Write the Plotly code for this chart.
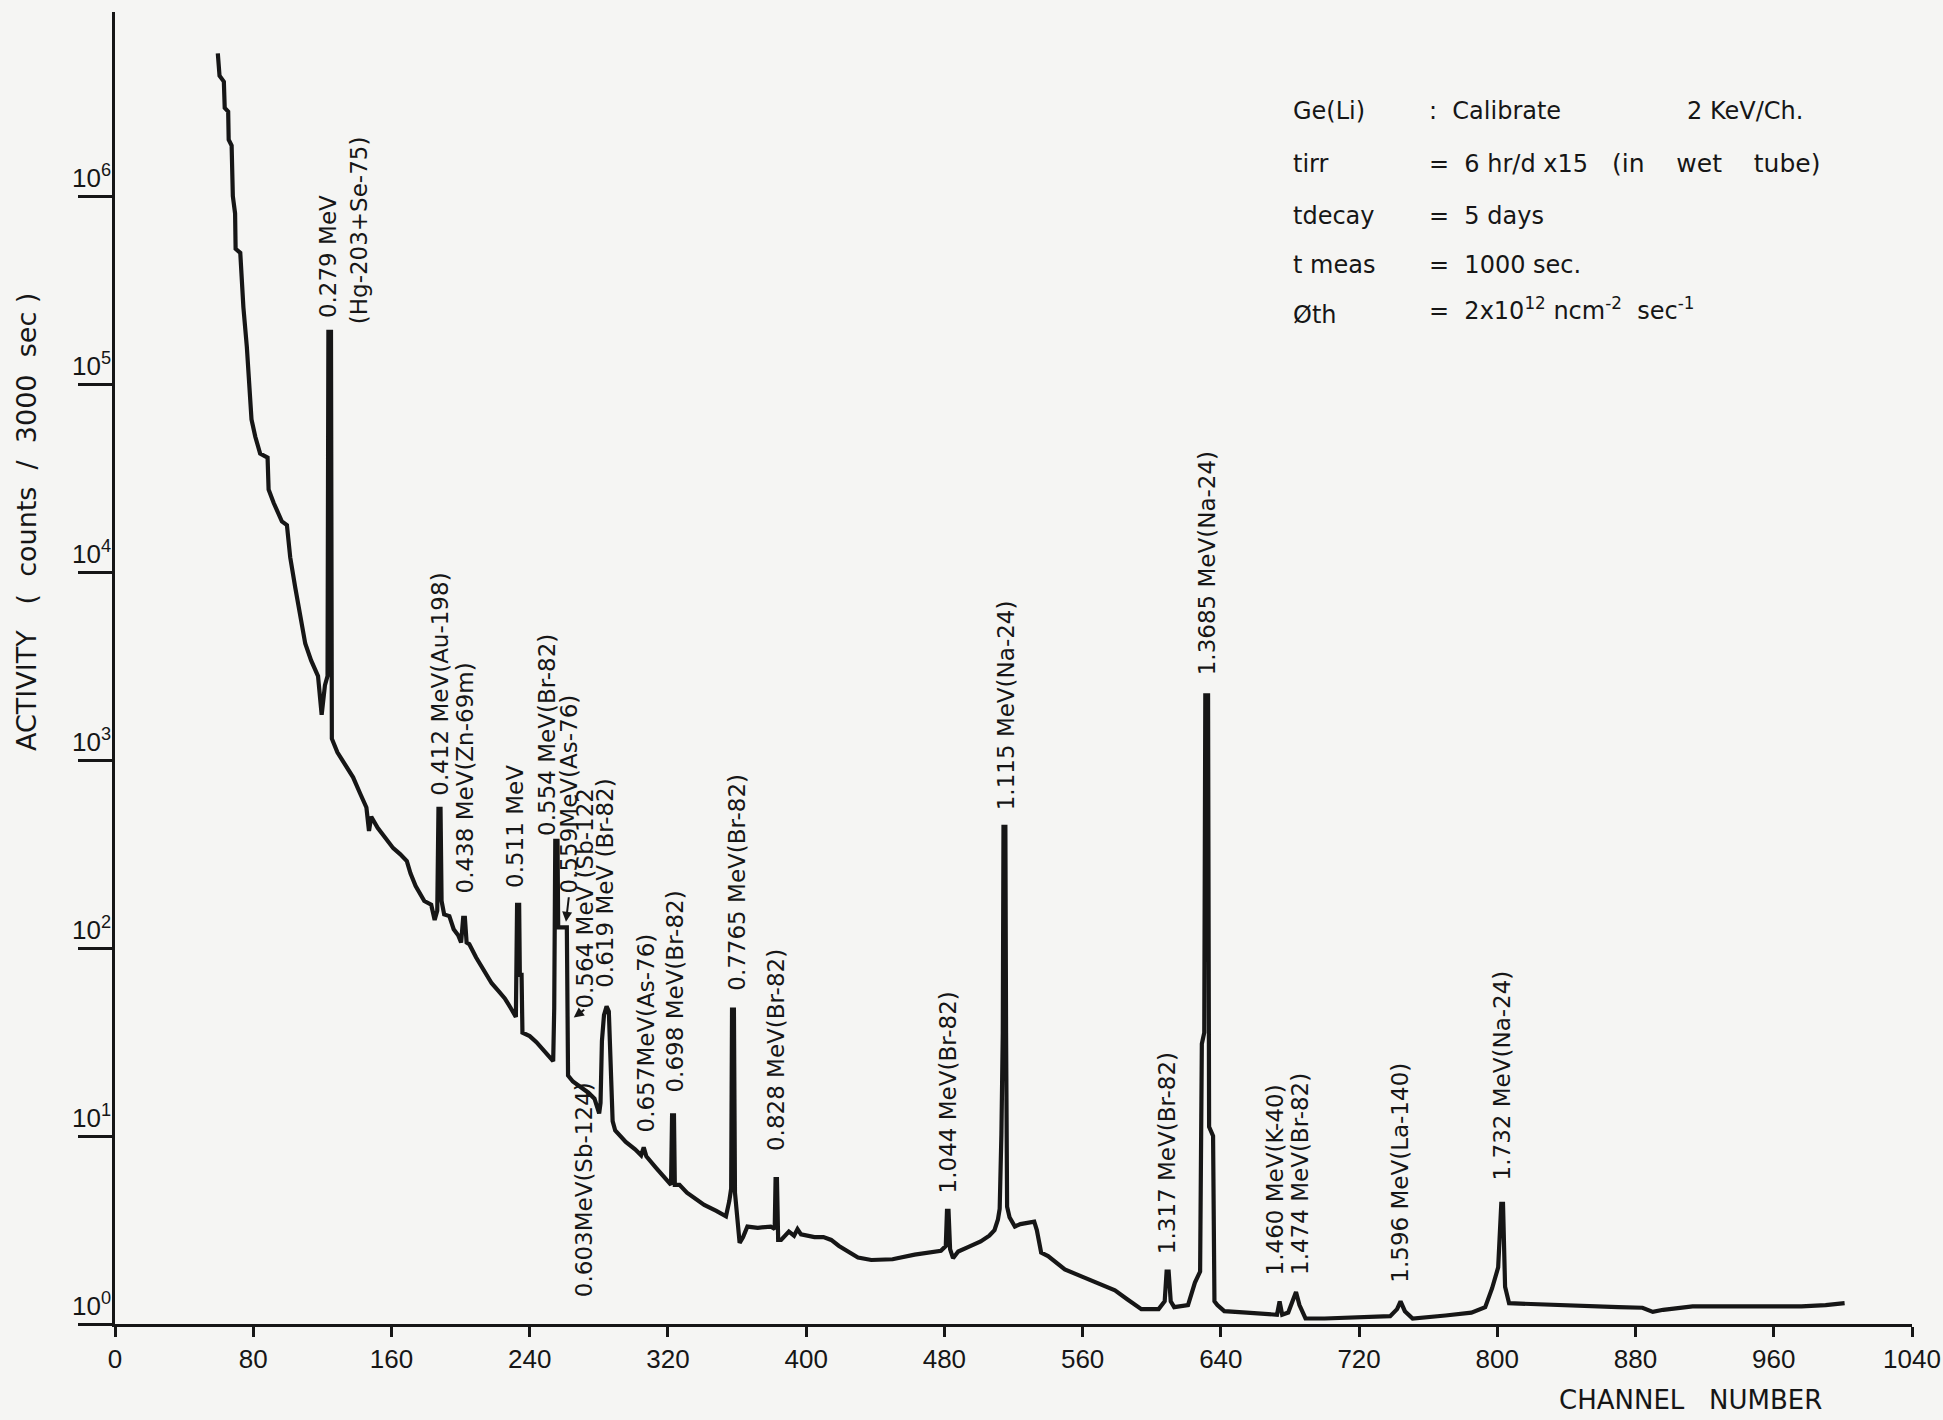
import plotly.graph_objects as go

# ---------------- data ----------------
CHANNEL = [
    59.5, 60.5, 63.0, 63.5, 65.5, 65.8, 67.5, 68.2, 69.5, 69.8, 72.5, 74.3, 76.3, 78.3,
    79.0, 81.2, 84.0, 88.3, 88.9, 91.8, 96.6, 99.5, 101.4, 104.3, 107.2, 110.1, 113.5,
    115.9, 117.5, 119.6, 121.5, 123.0, 123.5, 125.0, 125.5, 128.7, 133.0, 137.8, 142.0,
    145.5, 147.0, 148.3, 152.0, 156.0, 161.0, 165.0, 168.9, 171.0, 174.0, 179.0, 183.0,
    185.0, 186.5, 187.2, 188.4, 189.0, 190.5, 193.5, 196.0, 198.6, 200.3, 201.5, 202.5,
    203.5, 205.0, 209.0, 212.9, 218.0, 222.0, 225.6, 229.0, 232.0, 232.7, 233.9, 234.3,
    235.3, 235.8, 240.0, 243.9, 248.0, 251.7, 253.6, 254.2, 254.8, 256.1, 256.5, 261.5,
    262.2, 265.0, 269.7, 274.0, 277.5, 279.0, 280.2, 281.0, 281.8, 283.0, 284.5, 285.8,
    287.0, 288.0, 289.5, 295.6, 301.0, 304.5, 306.0, 307.5, 313.0, 319.0, 321.8, 322.4,
    323.5, 324.0, 326.7, 331.0, 337.0, 341.0, 348.0, 353.6, 355.5, 356.6, 357.1, 358.2,
    358.8, 361.5, 363.5, 366.0, 372.0, 379.5, 381.8, 382.3, 383.1, 383.8, 385.5, 390.0,
    393.0, 395.0, 397.0, 400.0, 404.8, 410.0, 414.5, 419.0, 424.0, 430.0, 437.7, 450.0,
    462.8, 471.0, 478.0, 480.8, 481.5, 482.4, 483.3, 485.0, 488.0, 494.0, 501.0, 506.0,
    509.0, 511.0, 512.0, 513.0, 513.8, 514.2, 515.3, 515.7, 516.3, 517.7, 520.8, 524.0,
    528.5, 532.0, 533.5, 536.0, 540.0, 545.0, 549.7, 560.0, 570.0, 578.7, 586.0, 594.0,
    604.0, 607.5, 608.6, 609.8, 611.0, 613.0, 621.0, 625.0, 628.0, 629.0, 630.4, 631.0,
    632.6, 633.2, 635.5, 636.3, 638.0, 642.0, 655.0, 668.0, 672.5, 674.0, 675.5, 679.0,
    682.0, 683.5, 685.5, 689.0, 700.0, 720.0, 738.0, 742.0, 744.0, 746.5, 751.0, 770.0,
    785.0, 793.0, 797.0, 800.5, 802.3, 803.3, 804.5, 806.8, 832.0, 851.0, 870.0, 884.0,
    890.0, 896.0, 913.0, 950.0, 976.0, 990.0, 1001.0,
]
COUNTS = [
    5.75e6, 4.37e6, 4.07e6, 2.95e6, 2.82e6, 2.0e6, 1.86e6, 1.0e6, 8.1e5, 5.25e5, 5.0e5,
    2.57e5, 1.58e5, 8.9e4, 6.5e4, 5.25e4, 4.27e4, 4.07e4, 2.75e4, 2.34e4, 1.86e4, 1.78e4,
    1.2e4, 8.3e3, 5.75e3, 4.17e3, 3.39e3, 3.02e3, 2.8e3, 1.74e3, 2.5e3, 2.8e3, 1.9e5,
    1.9e5, 1.3e3, 1.1e3, 955, 810, 660, 560, 420, 500, 436, 390, 340, 316, 290, 250, 214,
    178, 170, 141, 158, 550, 550, 178, 151, 148, 126, 117, 107, 145, 145, 107, 105, 89, 78,
    65, 59, 54, 48, 43, 170, 170, 72, 72, 35.5, 34, 31.6, 28.8, 26.3, 25, 48, 372, 372,
    129, 129, 21, 19.5, 18.2, 17, 15.8, 14.5, 13.2, 15, 32, 44, 49, 46, 25, 12, 10.7, 9.3,
    8.5, 7.9, 8.7, 7.8, 6.8, 5.9, 5.5, 12.9, 12.9, 5.5, 5.5, 5.0, 4.6, 4.3, 4.0, 3.74,
    4.5, 5.25, 47, 47, 5.0, 2.7, 2.9, 3.3, 3.25, 3.3, 3.2, 5.9, 5.9, 2.8, 2.8, 3.1, 2.95,
    3.2, 3.0, 2.95, 2.9, 2.9, 2.8, 2.6, 2.45, 2.26, 2.19, 2.21, 2.34, 2.4, 2.45, 2.6, 4.0,
    4.0, 2.5, 2.24, 2.43, 2.57, 2.75, 2.95, 3.16, 3.6, 4.1, 10.2, 35.5, 442, 442, 35.5,
    4.2, 3.7, 3.3, 3.4, 3.45, 3.5, 3.16, 2.4, 2.3, 2.1, 1.95, 1.78, 1.62, 1.51, 1.35, 1.2,
    1.2, 1.32, 1.9, 1.9, 1.32, 1.23, 1.26, 1.66, 1.9, 31, 35.5, 2210, 2210, 11.2, 10,
    1.32, 1.26, 1.17, 1.15, 1.12, 1.12, 1.32, 1.12, 1.15, 1.38, 1.48, 1.26, 1.07, 1.07,
    1.08, 1.1, 1.2, 1.32, 1.17, 1.07, 1.11, 1.15, 1.23, 1.55, 2.0, 4.36, 4.36, 1.58, 1.29,
    1.26, 1.24, 1.23, 1.22, 1.16, 1.19, 1.24, 1.24, 1.24, 1.26, 1.29,
]

X_TICKS = list(range(0, 1041, 80))
Y_DECADES = [0, 1, 2, 3, 4, 5, 6]

# peak labels: text, channel of label, log10(count) where the label starts
PEAK_TEXT = [
    "0.279 MeV", "(Hg-203+Se-75)", "0.412 MeV(Au-198)", "0.438 MeV(Zn-69m)",
    "0.511 MeV", "0.554 MeV(Br-82)", "0.559MeV(As-76)", "0.564 MeV (Sb-122",
    "0.619 MeV (Br-82)", "0.603MeV(Sb-124)", "0.657MeV(As-76)", "0.698 MeV(Br-82)",
    "0.7765 MeV(Br-82)", "0.828 MeV(Br-82)", "1.044 MeV(Br-82)", "1.115 MeV(Na-24)",
    "1.3685 MeV(Na-24)", "1.317 MeV(Br-82)", "1.460 MeV(K-40)", "1.474 MeV(Br-82)",
    "1.596 MeV(La-140)", "1.732 MeV(Na-24)",
]
PEAK_TEXT_CH = [
    122.9, 141.4, 188.4, 202.3, 231.9, 249.9, 262.5, 272.0, 283.5, 271.5, 307.2, 324.0,
    360.0, 382.6, 482.3, 515.4, 632.5, 609.3, 671.3, 685.8, 743.2, 802.9,
]
PEAK_TEXT_LOG = [
    5.34, 5.31, 2.80, 2.28, 2.31, 2.585, 2.28, 1.67, 1.78, 0.13, 1.01, 1.22,
    1.76, 0.91, 0.686, 2.72, 3.44, 0.36, 0.25, 0.25, 0.21, 0.755,
]

INFO_LABELS = ["Ge(Li)", "tirr", "tdecay", "t meas", "\u00d8th"]
INFO_VALUES = [
    ":\u00a0\u00a0Calibrate",
    "=\u00a0\u00a06 hr/d x15",
    "=\u00a0\u00a05 days",
    "=\u00a0\u00a01000 sec.",
    "=\u00a0\u00a02x10<sup>12</sup>\u00a0ncm<sup>-2</sup>\u00a0\u00a0sec<sup>-1</sup>",
]
INFO_EXTRA = ["2 KeV/Ch.", "(in\u00a0\u00a0\u00a0\u00a0wet\u00a0\u00a0\u00a0\u00a0tube)"]

# ---------------- figure ----------------
W, H = 1943, 1420
L, R, T, B = 115, 31, 12, 96
PW, PH = W - L - R, H - T - B
INK = "#161616"
BG = "#f5f5f3"
LABEL_FONT = "DejaVu Sans, Verdana, sans-serif"
NARROW = "Liberation Sans Narrow, Arial Narrow, Liberation Sans, sans-serif"


def px_to_paper_x(px):
    return (px - L) / PW


def px_to_paper_y(py):
    return (H - B - py) / PH


fig = go.Figure()
fig.add_trace(go.Scatter(
    x=CHANNEL, y=COUNTS, mode="lines",
    line=dict(color=INK, width=4.2), hoverinfo="x+y",
))

ann = []
for txt, ch, lg in zip(PEAK_TEXT, PEAK_TEXT_CH, PEAK_TEXT_LOG):
    ann.append(dict(
        x=ch, y=lg, xref="x", yref="y", text=txt, showarrow=False, textangle=-90,
        xanchor="center", yanchor="bottom",
        font=dict(family=LABEL_FONT, size=23, color=INK),
    ))

# small arrows for the 0.559 and 0.564 MeV labels
ann.append(dict(x=261.0, y=2.14, xref="x", yref="y", text="", showarrow=True,
                ax=3, ay=-26, arrowhead=2, arrowsize=1, arrowwidth=2, arrowcolor=INK))
ann.append(dict(x=265.5, y=1.63, xref="x", yref="y", text="", showarrow=True,
                ax=12, ay=-9, arrowhead=2, arrowsize=1, arrowwidth=2, arrowcolor=INK))

# y tick labels (10^n), sitting above the long ticks
for k in Y_DECADES:
    ann.append(dict(
        x=px_to_paper_x(70), y=k, xref="paper", yref="y",
        text="10<sup>%d</sup>" % k, showarrow=False, xanchor="left", yanchor="bottom",
        yshift=1, font=dict(family=NARROW, size=26, color=INK),
    ))

# y axis title
ann.append(dict(
    x=px_to_paper_x(26), y=px_to_paper_y(522), xref="paper", yref="paper",
    text="ACTIVITY\u00a0\u00a0\u00a0(\u00a0\u00a0counts\u00a0\u00a0/\u00a0\u00a03000\u00a0\u00a0sec\u00a0)",
    showarrow=False, textangle=-90, xanchor="center", yanchor="middle",
    font=dict(family=LABEL_FONT, size=27, color=INK),
))

# x axis title
ann.append(dict(
    x=px_to_paper_x(1690), y=px_to_paper_y(1400), xref="paper", yref="paper",
    text="CHANNEL\u00a0\u00a0\u00a0NUMBER", showarrow=False, xanchor="center",
    yanchor="middle", font=dict(family=LABEL_FONT, size=26, color=INK),
))

# info block
line_y = [111.5, 163.5, 215.6, 265.0, 314.7]
for i, (lab, val) in enumerate(zip(INFO_LABELS, INFO_VALUES)):
    ys = 6 if i == 4 else 0
    ann.append(dict(x=px_to_paper_x(1291), y=px_to_paper_y(line_y[i]), xref="paper",
                    yref="paper", text=lab, showarrow=False, xanchor="left",
                    yanchor="middle", font=dict(family=LABEL_FONT, size=24, color=INK)))
    ann.append(dict(x=px_to_paper_x(1427), y=px_to_paper_y(line_y[i]), xref="paper",
                    yref="paper", text=val, showarrow=False, xanchor="left",
                    yanchor="middle", yshift=ys,
                    font=dict(family=LABEL_FONT, size=24, color=INK)))
ann.append(dict(x=px_to_paper_x(1685), y=px_to_paper_y(line_y[0]), xref="paper",
                yref="paper", text=INFO_EXTRA[0], showarrow=False, xanchor="left",
                yanchor="middle", font=dict(family=LABEL_FONT, size=24, color=INK)))
ann.append(dict(x=px_to_paper_x(1610), y=px_to_paper_y(line_y[1]), xref="paper",
                yref="paper", text=INFO_EXTRA[1], showarrow=False, xanchor="left",
                yanchor="middle", font=dict(family=LABEL_FONT, size=25, color=INK)))

fig.update_layout(
    width=W, height=H, autosize=False,
    margin=dict(l=L, r=R, t=T, b=B, pad=0, autoexpand=False),
    paper_bgcolor=BG, plot_bgcolor=BG,
    showlegend=False,
    annotations=ann,
    xaxis=dict(
        range=[0, 1040], tickvals=X_TICKS, ticktext=[str(v) for v in X_TICKS],
        showline=True, linecolor=INK, linewidth=3, ticks="outside", ticklen=10,
        tickwidth=3, tickcolor=INK, showgrid=False, zeroline=False, automargin=False,
        tickfont=dict(family=NARROW, size=26, color=INK),
    ),
    yaxis=dict(
        type="log", range=[0, 6.98], tickvals=[10 ** k for k in Y_DECADES],
        showticklabels=False, showline=True, linecolor=INK, linewidth=3,
        ticks="outside", ticklen=34, tickwidth=3, tickcolor=INK,
        showgrid=False, zeroline=False, automargin=False,
    ),
)

fig.write_html(
    "out.html",
    config={"displayModeBar": False},
    post_script=(
        "document.body.style.margin='0';document.body.style.padding='0';"
        "document.documentElement.style.overflow='hidden';"
        "document.body.style.background='" + BG + "';"
    ),
)
